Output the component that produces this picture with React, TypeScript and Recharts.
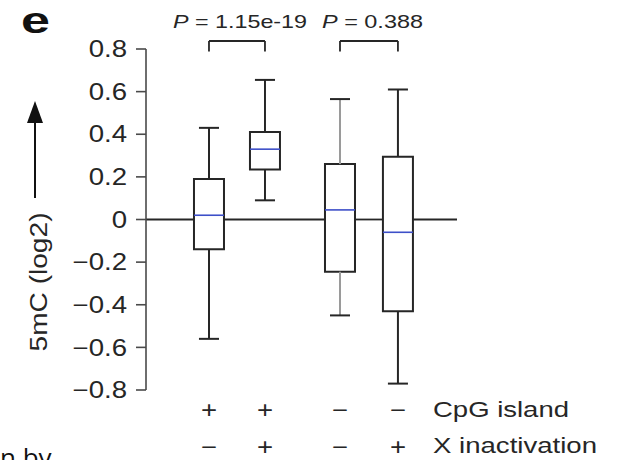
import { ComposedChart, XAxis, YAxis, Scatter, ReferenceArea, ReferenceLine } from 'recharts'

// ── data ───────────────────────────────────────────────────────────────────

const cpgIsland = ['+', '+', '−', '−']
const xInactivation = ['−', '+', '−', '+']

const whiskerLow = [-0.56, 0.09, -0.45, -0.77]
const q1 = [-0.14, 0.235, -0.245, -0.43]
const median = [0.02, 0.33, 0.045, -0.06]
const q3 = [0.19, 0.41, 0.26, 0.295]
const whiskerHigh = [0.43, 0.655, 0.565, 0.61]

const yTicks = [-0.8, -0.6, -0.4, -0.2, 0, 0.2, 0.4, 0.6, 0.8]

const comparisons: [number, number][] = [[0, 1], [2, 3]]
const pValues = ['1.15e-19', '0.388']

// ── layout ─────────────────────────────────────────────────────────────────

const groupX = [1.125, 2.125, 3.465, 4.5]
const X_DOMAIN: [number, number] = [0, 5.555]
const BOX_HALF = 0.268
const CAP_HALF = 0.179
const BRACKET_TOP = 0.8375
const BRACKET_FOOT = 0.788

const INK = '#262626'
const MEDIAN_BLUE = '#3d4fc8'
const WHISKER_STROKE = [INK, INK, '#9a9a9a', INK]
const FONT = '"Liberation Sans", Arial, Helvetica, sans-serif'
const SX = 1.2

const rows = groupX.map((x, i) => ({
  x,
  low: whiskerLow[i],
  q1: q1[i],
  median: median[i],
  q3: q3[i],
  high: whiskerHigh[i],
}))

// zero line, broken where a white box covers it
const zeroSegments: [number, number][] = []
{
  let start = X_DOMAIN[0]
  rows.forEach(r => {
    if (r.q1 < 0 && r.q3 > 0) {
      zeroSegments.push([start, r.x - BOX_HALF])
      start = r.x + BOX_HALF
    }
  })
  zeroSegments.push([start, X_DOMAIN[1]])
}

const fmtTick = (v: number) => (v === 0 ? '0' : (v < 0 ? '−' : '') + Math.abs(v).toFixed(1))

function YTick({ x, y, payload }: any) {
  return (
    <text
      transform={`translate(${x} ${y}) scale(${SX} 1)`}
      textAnchor="end"
      dominantBaseline="central"
      fontFamily={FONT}
      fontSize={23}
      fill={INK}
    >
      {fmtTick(payload.value)}
    </text>
  )
}

function SignTick({ x, y, index }: any) {
  const style = { fontFamily: FONT, fontSize: 23, fill: INK }
  return (
    <g>
      <text transform={`translate(${x} ${y + 20}) scale(${SX} 1)`} textAnchor="middle" dominantBaseline="central" {...style}>
        {cpgIsland[index]}
      </text>
      <text transform={`translate(${x} ${y + 57}) scale(${SX} 1)`} textAnchor="middle" dominantBaseline="central" {...style}>
        {xInactivation[index]}
      </text>
    </g>
  )
}

function MedianMark({ cx, cy }: any) {
  return <line x1={cx - 15} x2={cx + 15} y1={cy} y2={cy} stroke={MEDIAN_BLUE} strokeWidth={1.6} />
}

export default function App() {
  return (
    <div style={{ position: 'absolute', left: 0, top: 0, width: 618, height: 460, background: '#fff', overflow: 'hidden' }}>
      <ComposedChart width={618} height={460} data={rows} margin={{ top: 49, right: 161, bottom: 10, left: 86 }}>
        <XAxis
          dataKey="x"
          type="number"
          domain={X_DOMAIN}
          ticks={groupX}
          axisLine={false}
          tickLine={false}
          tickSize={0}
          tickMargin={0}
          height={60}
          tick={<SignTick />}
          interval={0}
        />
        <YAxis
          type="number"
          domain={[-0.8, 0.8]}
          ticks={yTicks}
          width={60}
          tickSize={10}
          tickMargin={9}
          axisLine={{ stroke: '#4a4a4a', strokeWidth: 1.6 }}
          tickLine={{ stroke: '#4a4a4a', strokeWidth: 1.6 }}
          tick={<YTick />}
          interval={0}
        />

        {zeroSegments.map(([a, b], i) => (
          <ReferenceLine key={`z${i}`} segment={[{ x: a, y: 0 }, { x: b, y: 0 }]} stroke={INK} strokeWidth={1.8} />
        ))}

        {rows.map((r, i) => (
          <ReferenceArea
            key={`box${i}`}
            x1={r.x - BOX_HALF}
            x2={r.x + BOX_HALF}
            y1={r.q1}
            y2={r.q3}
            fill="#fff"
            fillOpacity={1}
            stroke={INK}
            strokeWidth={2}
          />
        ))}

        {rows.flatMap((r, i) => [
          <ReferenceLine key={`wh${i}`} segment={[{ x: r.x, y: r.q3 }, { x: r.x, y: r.high }]} stroke={WHISKER_STROKE[i]} strokeWidth={2} />,
          <ReferenceLine key={`wl${i}`} segment={[{ x: r.x, y: r.q1 }, { x: r.x, y: r.low }]} stroke={WHISKER_STROKE[i]} strokeWidth={2} />,
          <ReferenceLine key={`ch${i}`} segment={[{ x: r.x - CAP_HALF, y: r.high }, { x: r.x + CAP_HALF, y: r.high }]} stroke={INK} strokeWidth={2} />,
          <ReferenceLine key={`cl${i}`} segment={[{ x: r.x - CAP_HALF, y: r.low }, { x: r.x + CAP_HALF, y: r.low }]} stroke={INK} strokeWidth={2} />,
        ])}

        {comparisons.flatMap(([a, b], i) => [
          <ReferenceLine key={`bt${i}`} ifOverflow="visible" segment={[{ x: groupX[a], y: BRACKET_TOP }, { x: groupX[b], y: BRACKET_TOP }]} stroke={INK} strokeWidth={1.8} />,
          <ReferenceLine key={`ba${i}`} ifOverflow="visible" segment={[{ x: groupX[a], y: BRACKET_TOP }, { x: groupX[a], y: BRACKET_FOOT }]} stroke={INK} strokeWidth={1.8} />,
          <ReferenceLine key={`bb${i}`} ifOverflow="visible" segment={[{ x: groupX[b], y: BRACKET_TOP }, { x: groupX[b], y: BRACKET_FOOT }]} stroke={INK} strokeWidth={1.8} />,
        ])}

        <Scatter dataKey="median" shape={<MedianMark />} isAnimationActive={false} />
      </ComposedChart>

      <svg width={618} height={460} style={{ position: 'absolute', left: 0, top: 0, pointerEvents: 'none' }}>
        <text x={21} y={33} fontFamily={FONT} fontWeight="bold" fontSize={36} textLength={29} lengthAdjust="spacingAndGlyphs" fill="#111">
          e
        </text>

        {pValues.map((p, i) => (
          <text
            key={p}
            x={[173, 322][i]}
            y={28}
            textLength={[134, 101][i]}
            lengthAdjust="spacingAndGlyphs"
            fontFamily={FONT}
            fontSize={19}
            fill={INK}
          >
            <tspan fontStyle="italic">P</tspan> = {p}
          </text>
        ))}

        <line x1={35} y1={198} x2={35} y2={118} stroke="#111" strokeWidth={2} />
        <polygon points="35,101 27,123 43,123" fill="#111" />
        <text
          transform="translate(39 282) rotate(-90)"
          textAnchor="middle"
          dominantBaseline="central"
          fontFamily={FONT}
          fontSize={23}
          textLength={139}
          lengthAdjust="spacingAndGlyphs"
          fill={INK}
        >
          5mC (log2)
        </text>

        <text x={433} y={417} fontFamily={FONT} fontSize={22} textLength={136} lengthAdjust="spacingAndGlyphs" fill={INK}>
          CpG island
        </text>
        <text x={433} y={453} fontFamily={FONT} fontSize={22} textLength={164} lengthAdjust="spacingAndGlyphs" fill={INK}>
          X inactivation
        </text>

        <text x={0} y={467} fontFamily='"Open Sans", sans-serif' fontSize={26} fill="#111">
          n by
        </text>
      </svg>
    </div>
  )
}
